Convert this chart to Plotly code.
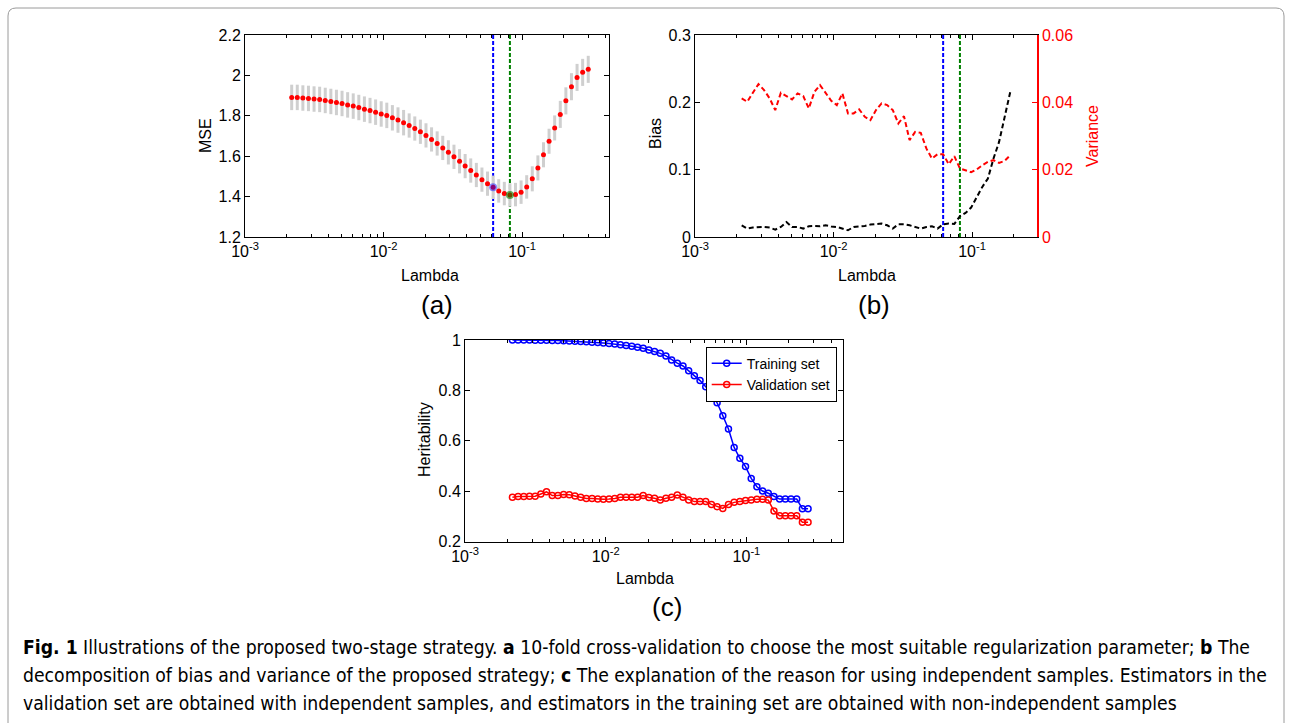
import plotly.graph_objects as go

# ---------------- data ----------------
lam = [0.002173, 0.002384, 0.002617, 0.002872, 0.003152, 0.003459, 0.003796, 0.004167, 0.004573, 0.005019,
       0.005508, 0.006045, 0.006634, 0.007281, 0.007991, 0.008770, 0.009625, 0.01056, 0.01159, 0.01272,
       0.01396, 0.01532, 0.01682, 0.01846, 0.02026, 0.02223, 0.02440, 0.02678, 0.02939, 0.03226,
       0.03540, 0.03885, 0.04264, 0.04680, 0.05136, 0.05636, 0.06186, 0.06789, 0.07451, 0.08177,
       0.08974, 0.09849, 0.1081, 0.1186, 0.1302, 0.1429, 0.1568, 0.1721, 0.1889, 0.2073,
       0.2275, 0.2497, 0.2740, 0.3007]

mse = [1.891, 1.891, 1.888, 1.886, 1.883, 1.881, 1.876, 1.871, 1.866, 1.861,
       1.854, 1.848, 1.841, 1.833, 1.826, 1.818, 1.809, 1.802, 1.790, 1.779,
       1.766, 1.752, 1.737, 1.721, 1.703, 1.683, 1.663, 1.641, 1.619, 1.597,
       1.575, 1.551, 1.529, 1.507, 1.484, 1.464, 1.446, 1.428, 1.415, 1.408,
       1.410, 1.422, 1.448, 1.488, 1.542, 1.607, 1.674, 1.740, 1.807, 1.874,
       1.944, 1.990, 2.015, 2.030]
mse_err = [0.063] * 21 + [0.060] * 15 + [0.058] * 7 + [0.062] * 5 + [0.067] * 6

bias = [0.0174, 0.0125, 0.0140, 0.0149, 0.0149, 0.0140, 0.0110, 0.0149, 0.0223, 0.0149,
        0.0149, 0.0125, 0.0160, 0.0164, 0.0160, 0.0174, 0.0155, 0.0149, 0.0130, 0.0100,
        0.0149, 0.0155, 0.0164, 0.0184, 0.0189, 0.0199, 0.0174, 0.0125, 0.0189, 0.0189,
        0.0174, 0.0149, 0.0125, 0.0149, 0.0159, 0.0125, 0.0189, 0.0199, 0.0194, 0.0308,
        0.0357, 0.0437, 0.0595, 0.0744, 0.0869, 0.1166, 0.1413, 0.1785, 0.2157]
variance = [0.04117, 0.04016, 0.04284, 0.04542, 0.04364, 0.04117, 0.03769, 0.04284, 0.04185, 0.04087,
            0.04266, 0.04185, 0.03819, 0.04313, 0.04513, 0.04266, 0.04046, 0.03918, 0.04266, 0.03671,
            0.03671, 0.03790, 0.03570, 0.03471, 0.03769, 0.03968, 0.03918, 0.03769, 0.03373, 0.03590,
            0.02877, 0.03123, 0.03094, 0.02630, 0.02332, 0.02460, 0.02460, 0.02163, 0.02400, 0.02035,
            0.01984, 0.01925, 0.02005, 0.02133, 0.02231, 0.02282, 0.02201, 0.02261, 0.02430]

training = [1.000, 1.000, 1.000, 1.000, 0.999, 0.999, 0.999, 0.998, 0.998, 0.997,
            0.996, 0.995, 0.994, 0.993, 0.991, 0.990, 0.988, 0.986, 0.984, 0.981,
            0.978, 0.975, 0.971, 0.967, 0.960, 0.954, 0.947, 0.937, 0.921, 0.908,
            0.897, 0.878, 0.858, 0.839, 0.815, 0.785, 0.751, 0.700, 0.647, 0.574,
            0.531, 0.498, 0.451, 0.418, 0.401, 0.392, 0.379, 0.369, 0.369, 0.369,
            0.369, 0.331, 0.331]
validation = [0.376, 0.379, 0.379, 0.380, 0.380, 0.389, 0.398, 0.383, 0.383, 0.387,
              0.386, 0.381, 0.376, 0.371, 0.371, 0.369, 0.368, 0.369, 0.371, 0.376,
              0.376, 0.376, 0.376, 0.383, 0.375, 0.372, 0.365, 0.372, 0.376, 0.385,
              0.376, 0.365, 0.359, 0.359, 0.359, 0.348, 0.339, 0.332, 0.348, 0.356,
              0.359, 0.363, 0.365, 0.368, 0.368, 0.365, 0.322, 0.303, 0.303, 0.303,
              0.303, 0.277, 0.277]

i_blue, i_green = 36, 39          # selected lambdas (blue / green lines)
mse_range = [1.2, 2.2]
bias_range = [0, 0.3]
var_range = [0, 0.06]
her_range = [0.2, 1.0]

x_tickvals = [1e-3, 1e-2, 1e-1]
x_ticktext = ["10<sup>-3</sup>", "10<sup>-2</sup>", "10<sup>-1</sup>"]
x_minor = [m * 10 ** e for e in (-3, -2, -1) for m in range(2, 10)]

# ---------------- layout helpers ----------------
W, H = 1292, 723
def fx(p): return p / W
def fy(p): return 1 - p / H

FONT = "Liberation Sans, Arial, Helvetica, sans-serif"
TICKF = dict(family=FONT, size=16, color="black")

def xaxis(dom, rng, anchor):
    return dict(type="log", domain=dom, range=rng, anchor=anchor, automargin=False,
                tickvals=x_tickvals, ticktext=x_ticktext, tickfont=TICKF,
                ticks="inside", ticklen=5, tickcolor="black", showline=True,
                linecolor="black", linewidth=1, mirror="ticks", showgrid=False,
                zeroline=False,
                minor=dict(tickvals=x_minor, ticks="inside", ticklen=3, tickcolor="black", showgrid=False))

def yaxis(dom, rng, dtick, anchor, mirror="ticks"):
    return dict(domain=dom, range=rng, dtick=dtick, anchor=anchor, tickfont=TICKF, automargin=False,
                ticks="inside", ticklen=5, tickcolor="black", showline=True,
                linecolor="black", linewidth=1, mirror=mirror, showgrid=False, zeroline=False)

fig = go.Figure()

# ---------------- panel (a) ----------------
fig.add_trace(go.Scatter(x=[lam[i_blue]] * 2, y=mse_range, mode="lines",
                         line=dict(color="#0000ff", width=2, dash="4px,2px"),
                         xaxis="x", yaxis="y", showlegend=False))
fig.add_trace(go.Scatter(x=[lam[i_green]] * 2, y=mse_range, mode="lines",
                         line=dict(color="#008000", width=2, dash="4px,2px"),
                         xaxis="x", yaxis="y", showlegend=False))
fig.add_trace(go.Scatter(x=lam, y=mse, mode="markers",
                         error_y=dict(type="data", array=mse_err, color="#cfcfcf", thickness=3, width=0),
                         marker=dict(color="#ff0000", size=5),
                         xaxis="x", yaxis="y", showlegend=False))
fig.add_trace(go.Scatter(x=[lam[i_blue]], y=[mse[i_blue]], mode="markers",
                         marker=dict(color="rgba(0,0,255,0.45)", size=8),
                         xaxis="x", yaxis="y", showlegend=False))
fig.add_trace(go.Scatter(x=[lam[i_green]], y=[mse[i_green]], mode="markers",
                         marker=dict(color="rgba(0,128,0,0.6)", size=8),
                         xaxis="x", yaxis="y", showlegend=False))

# ---------------- panel (b) ----------------
nb = len(bias)
fig.add_trace(go.Scatter(x=[lam[i_blue]] * 2, y=bias_range, mode="lines",
                         line=dict(color="#0000ff", width=2, dash="4px,2px"),
                         xaxis="x2", yaxis="y2", showlegend=False))
fig.add_trace(go.Scatter(x=[lam[i_green]] * 2, y=bias_range, mode="lines",
                         line=dict(color="#008000", width=2, dash="4px,2px"),
                         xaxis="x2", yaxis="y2", showlegend=False))
fig.add_trace(go.Scatter(x=lam[:nb], y=bias, mode="lines",
                         line=dict(color="black", width=2, dash="5px,3px"),
                         xaxis="x2", yaxis="y2", showlegend=False))
fig.add_trace(go.Scatter(x=lam[:len(variance)], y=variance, mode="lines",
                         line=dict(color="#ff0000", width=2, dash="5px,3px"),
                         xaxis="x2", yaxis="y3", showlegend=False))

# ---------------- panel (c) ----------------
nc = len(training)
fig.add_trace(go.Scatter(x=lam[:nc], y=training, mode="lines+markers", name="Training set",
                         line=dict(color="#0000ff", width=1.5),
                         marker=dict(symbol="circle-open", size=6, color="#0000ff", line=dict(width=1.5)),
                         xaxis="x3", yaxis="y4"))
fig.add_trace(go.Scatter(x=lam[:len(validation)], y=validation, mode="lines+markers", name="Validation set",
                         line=dict(color="#ff0000", width=1.5),
                         marker=dict(symbol="circle-open", size=6, color="#ff0000", line=dict(width=1.5)),
                         xaxis="x3", yaxis="y4"))

# domains (pixel boxes)
a_x, b_x, c_x = [fx(245), fx(609)], [fx(695), fx(1037)], [fx(465), fx(843)]
ab_y, c_y = [fy(237), fy(35)], [fy(541.7), fy(340)]

layout = dict(
    template="none",
    width=W, height=H, autosize=False, margin=dict(l=0, r=0, t=0, b=0, pad=0, autoexpand=False),
    paper_bgcolor="white", plot_bgcolor="white",
    font=dict(family=FONT, size=15, color="black"),
    xaxis=xaxis(a_x, [-3, -0.372], "y"),
    yaxis=yaxis(ab_y, mse_range, 0.2, "x"),
    xaxis2=xaxis(b_x, [-3, -0.531], "y2"),
    yaxis2=yaxis(ab_y, bias_range, 0.1, "x2", mirror=False),
    yaxis3=dict(overlaying="y2", side="right", anchor="x2", range=var_range, dtick=0.02, automargin=False,
                tickfont=dict(family=FONT, size=16, color="#ff0000"), ticks="inside", ticklen=5,
                tickcolor="#ff0000", showline=True, linecolor="#ff0000", linewidth=1.5,
                showgrid=False, zeroline=False),
    xaxis3=xaxis(c_x, [-3, -0.314], "y4"),
    yaxis4=yaxis(c_y, her_range, 0.2, "x3"),
    showlegend=True,
    legend=dict(x=fx(836.7), y=fy(346.7), xanchor="right", yanchor="top",
                bgcolor="white", bordercolor="black", borderwidth=1,
                font=dict(family=FONT, size=14, color="black"), itemwidth=30,
                tracegroupgap=0),
)
fig.update_layout(**layout)

# ---------------- text ----------------
def ann(text, x, y, size=16, color="black", angle=0, xanchor="center", family=FONT):
    fig.add_annotation(text=text, x=fx(x), y=fy(y), xref="paper", yref="paper",
                       showarrow=False, xanchor=xanchor, yanchor="middle", textangle=angle,
                       font=dict(family=family, size=size, color=color))

ann("Lambda", 430, 275)
ann("(a)", 437, 305, size=26)
ann("MSE", 205, 136, angle=-90)
ann("Lambda", 867, 275)
ann("(b)", 874, 305, size=26)
ann("Bias", 655, 134, angle=-90)
ann("Variance", 1092, 136, color="#ff0000", angle=-90)
ann("Lambda", 645, 578)
ann("(c)", 667, 607, size=26)
ann("Heritability", 425, 440, angle=-90)

CAP = "Liberation Sans Narrow, DejaVu Sans Condensed, Arial Narrow, sans-serif"
cap_lines = [
    "<b>Fig. 1</b> Illustrations of the proposed two-stage strategy. <b>a</b> 10-fold cross-validation to choose the most suitable regularization parameter; <b>b</b> The",
    "decomposition of bias and variance of the proposed strategy; <b>c</b> The explanation of the reason for using independent samples. Estimators in the",
    "validation set are obtained with independent samples, and estimators in the training set are obtained with non-independent samples",
]
for line, yy in zip(cap_lines, [647, 675, 703]):
    ann(line, 21, yy, size=19.2, xanchor="left", family=CAP)

# frame around the figure (rounded top corners, open below)
r = 8
path = (f"M {fx(8)},{fy(760)} L {fx(8)},{fy(8 + r)} Q {fx(8)},{fy(8)} {fx(8 + r)},{fy(8)} "
        f"L {fx(1284 - r)},{fy(8)} Q {fx(1284)},{fy(8)} {fx(1284)},{fy(8 + r)} L {fx(1284)},{fy(760)}")
fig.add_shape(type="path", path=path, xref="paper", yref="paper",
              line=dict(color="#9a9a9a", width=1))

fig.write_html("out.html", config={"displayModeBar": False, "responsive": False},
               post_script="document.body.style.margin='0px';")
